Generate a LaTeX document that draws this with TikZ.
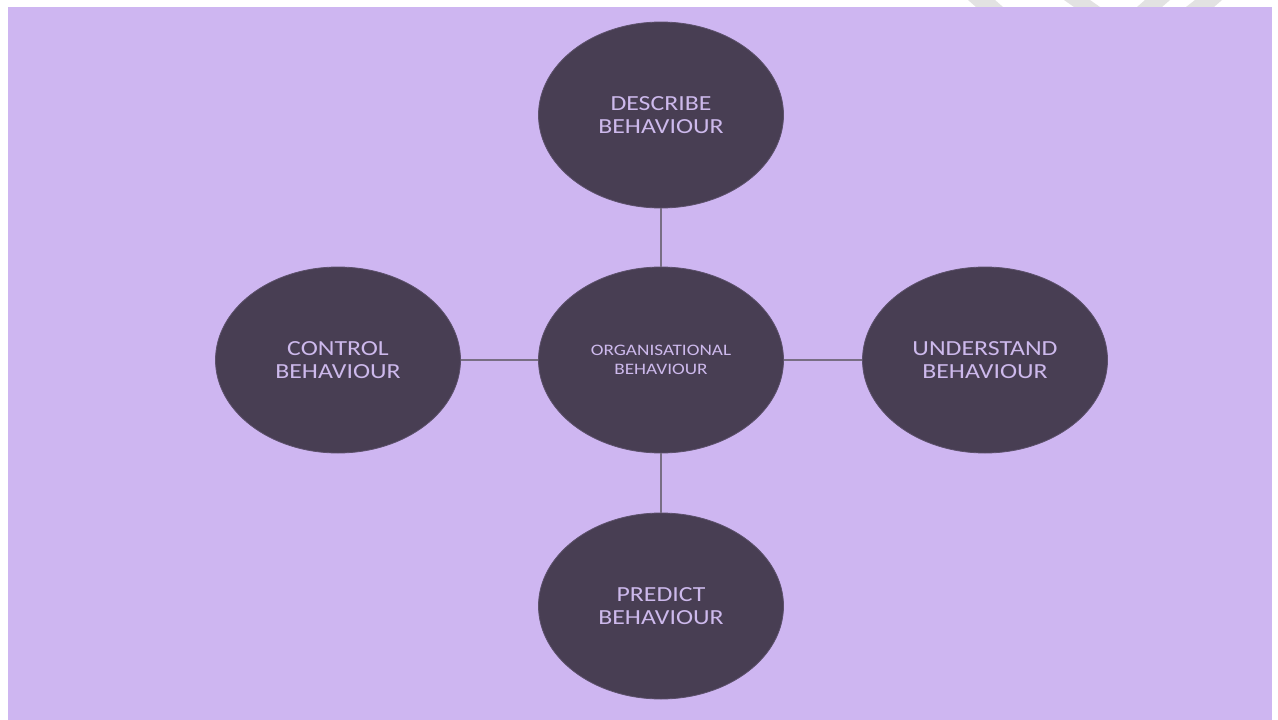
\documentclass[tikz,border=0pt]{standalone}
\usepackage{fontspec}
\setmainfont{Carlito}[FakeStretch=1.2]
\usetikzlibrary{shapes.geometric}
\definecolor{lavender}{HTML}{CEB6F1}
\definecolor{plum}{HTML}{483E53}
\definecolor{linkgrey}{HTML}{786E84}
\definecolor{labeltext}{HTML}{CDB9EC}
\definecolor{markgrey}{HTML}{E2E2E2}
\tikzset{
  topic/.style={ellipse, fill=plum, draw=plum!85!lavender, line width=0.8pt,
    minimum width=245pt, minimum height=186pt, inner sep=0pt,
    text=labeltext, align=center, font=\fontsize{21.5}{22.5}\selectfont},
  hub/.style={topic, font=\fontsize{16}{19}\selectfont},
  link/.style={draw=linkgrey, line width=2.8pt},
  faintstroke/.style={fill=markgrey, draw=none}
}
\begin{document}
\begin{tikzpicture}[x=1pt, y=-1pt]
  \useasboundingbox (0,0) rectangle (1278,720);
  \fill[white] (0,0) rectangle (1278,720);
  % faint strokes showing above the panel
  \fill[faintstroke] (968,0) -- (995,0) -- (1003,7) -- (976,7) -- cycle;
  \fill[faintstroke] (1064,0) -- (1090,0) -- (1100,7) -- (1074,7) -- cycle;
  \fill[faintstroke] (1145,0) -- (1170,0) -- (1162,7) -- (1137,7) -- cycle;
  \fill[faintstroke] (1195,0) -- (1222,0) -- (1214,7) -- (1186,7) -- cycle;
  % panel
  \fill[lavender] (8,7) rectangle (1272,720);
  % ellipses
  \node[hub]   (ob)  at (661,360) {ORGANISATIONAL\\BEHAVIOUR};
  \node[topic] (des) at (661,115) {DESCRIBE\\BEHAVIOUR};
  \node[topic] (con) at (338,360) {CONTROL\\BEHAVIOUR};
  \node[topic] (und) at (985,360) {UNDERSTAND\\BEHAVIOUR};
  \node[topic] (pre) at (661,606) {PREDICT\\BEHAVIOUR};
  % connectors
  \path[link] (des.south) -- (ob.north);
  \path[link] (ob.south) -- (pre.north);
  \path[link] (con.east) -- (ob.west);
  \path[link] (ob.east) -- (und.west);
\end{tikzpicture}
\end{document}
